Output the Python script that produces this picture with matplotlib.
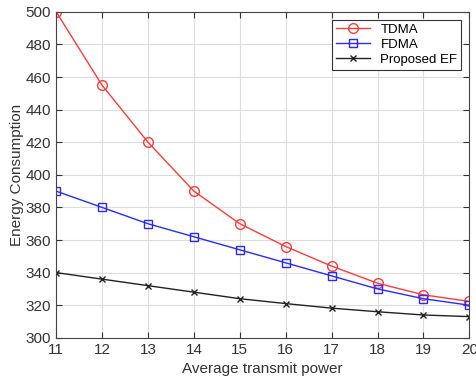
import matplotlib
matplotlib.use("Agg")
import matplotlib.pyplot as plt

plt.rcParams["font.family"] = ["Liberation Sans", "DejaVu Sans"]

# Datos
potencia = [11, 12, 13, 14, 15, 16, 17, 18, 19, 20]
tdma = [500, 455, 420, 390, 370, 356, 344, 333.5, 326.4, 322.3]
fdma = [390, 380, 370, 362, 354, 346, 338, 330, 324, 320]
propuesto = [340, 336, 332, 328, 324, 321, 318.2, 316, 314, 313]

fig = plt.figure(figsize=(4.76, 3.83), dpi=100)
ax = fig.add_axes([0.118, 0.118, 0.868, 0.851])

ax.plot(potencia, tdma, color="#ff3b3b", marker="o", markersize=7, markerfacecolor="none",
        linewidth=1, label="TDMA")
ax.plot(potencia, fdma, color="#2a2aff", marker="s", markersize=6, markerfacecolor="none",
        linewidth=1, label="FDMA")
ax.plot(potencia, propuesto, color="#222222", marker="x", markersize=5,
        linewidth=1, label="Proposed EF")

ax.set_xlim(11, 20)
ax.set_ylim(300, 500)
ax.set_xticks(potencia)
ax.set_yticks(range(300, 501, 20))
ax.grid(True, color="#dddddd", linewidth=0.8)
ax.tick_params(direction="in", top=True, right=True, labelsize=11, colors="#333333",
               length=4)
for s in ax.spines.values():
    s.set_color("#444444")

ax.set_xlabel("Average transmit power", fontsize=11, color="#333333")
ax.set_ylabel("Energy Consumption", fontsize=11, color="#333333", labelpad=1)

leg = ax.legend(loc="upper right", fontsize=9.5, fancybox=False, edgecolor="#333333",
                borderpad=0.3, handlelength=2.6, labelspacing=0.2, framealpha=1,
                borderaxespad=0.6)
leg.get_frame().set_linewidth(0.8)

plt.savefig("out.png")
